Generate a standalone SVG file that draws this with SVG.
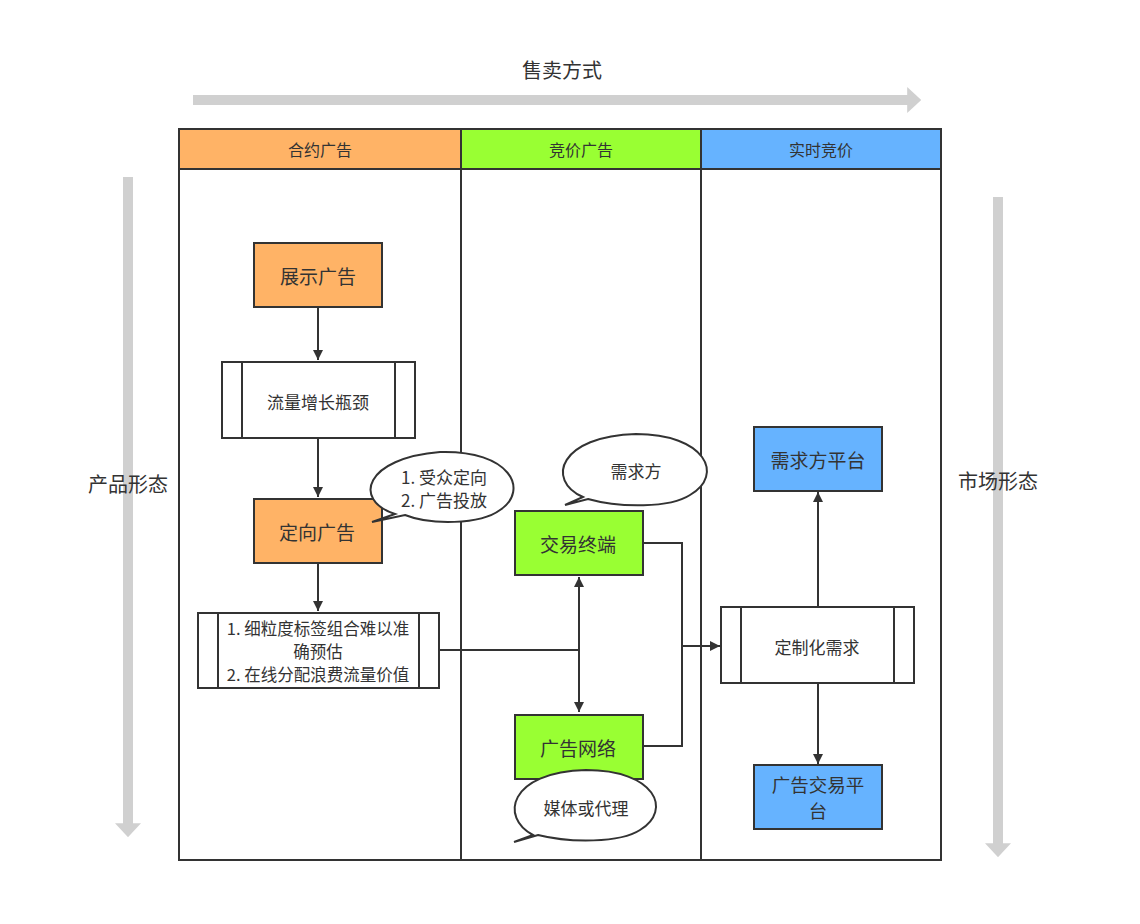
<svg xmlns="http://www.w3.org/2000/svg" width="1140" height="924" viewBox="0 0 1140 924">
<defs>
<marker id="a" viewBox="0 0 10 10" refX="10" refY="5" markerWidth="10" markerHeight="10" markerUnits="userSpaceOnUse" orient="auto-start-reverse"><path d="M0,0L10,5L0,10z" fill="#333"/></marker>
<marker id="g" viewBox="0 0 10 10" refX="2" refY="5" markerWidth="14" markerHeight="26" markerUnits="userSpaceOnUse" orient="auto" preserveAspectRatio="none"><path d="M0,0L10,5L0,10z" fill="#d0d0d0"/></marker>
<style>
text{font-family:"Noto Sans CJK SC","Noto Sans",sans-serif;fill:#333;text-anchor:middle;dominant-baseline:central}
.b{stroke:#333;stroke-width:2}
.l{stroke:#333;stroke-width:2;fill:none}
.gr{stroke:#d0d0d0;stroke-width:10;fill:none}
</style>
</defs>
<rect width="1140" height="924" fill="#fff"/>
<g id="axes">
<path class="gr" d="M193,100H910" marker-end="url(#g)"/>
<text x="562" y="69" font-size="20">售卖方式</text>
<path class="gr" d="M128,177V826" marker-end="url(#g)"/>
<text x="128" y="483" font-size="20">产品形态</text>
<path class="gr" d="M998,197V846" marker-end="url(#g)"/>
<text x="998" y="480" font-size="20">市场形态</text>
</g>
<g id="lanes">
<rect x="179" y="129" width="762" height="731" fill="#fff" class="b"/>
<rect x="179" y="129" width="282" height="40" fill="#ffb366" class="b"/>
<rect x="461" y="129" width="240" height="40" fill="#99ff33" class="b"/>
<rect x="701" y="129" width="240" height="40" fill="#66b3ff" class="b"/>
<line x1="461" y1="169" x2="461" y2="860" class="b"/>
<line x1="701" y1="169" x2="701" y2="860" class="b"/>
<text x="320" y="149" font-size="16">合约广告</text>
<text x="581" y="149" font-size="16">竞价广告</text>
<text x="821" y="149" font-size="16">实时竞价</text>
</g>
<g id="connectors">
<path class="l" d="M318,307V360" marker-end="url(#a)"/>
<path class="l" d="M318,439V497" marker-end="url(#a)"/>
<path class="l" d="M318,563V611" marker-end="url(#a)"/>
<path class="l" d="M440,650H579"/>
<path class="l" d="M579,577V712" marker-start="url(#a)" marker-end="url(#a)"/>
<path class="l" d="M643,543H682V746H643"/>
<path class="l" d="M682,646H720" marker-end="url(#a)"/>
<path class="l" d="M818,606V492" marker-end="url(#a)"/>
<path class="l" d="M818,684V764" marker-end="url(#a)"/>
</g>
<g id="n1"><rect x="254" y="243" width="128" height="64" fill="#ffb366" class="b"/><text x="318" y="275" font-size="19">展示广告</text></g>
<g id="n2"><rect x="222" y="362" width="193" height="76" fill="#fff" class="b"/><line x1="242" y1="362" x2="242" y2="438" class="b"/><line x1="395" y1="362" x2="395" y2="438" class="b"/><text x="318" y="401" font-size="17">流量增长瓶颈</text></g>
<g id="n3"><rect x="254" y="499" width="128" height="64" fill="#ffb366" class="b"/><text x="317" y="531" font-size="19">定向广告</text></g>
<g id="n4"><rect x="198" y="613" width="241" height="75" fill="#fff" class="b"/><line x1="218" y1="613" x2="218" y2="688" class="b"/><line x1="419" y1="613" x2="419" y2="688" class="b"/><text x="318" y="628" font-size="16.5">1. 细粒度标签组合难以准</text><text x="318" y="651" font-size="16.5">确预估</text><text x="318" y="674" font-size="16.5">2. 在线分配浪费流量价值</text></g>
<g id="b1"><path d="M395,514C352,500 365,458 440,452C510,450 530,490 500,510C480,525 430,525 405,515L372,522Z" fill="#fff" class="b"/><text x="444" y="476" font-size="17">1. 受众定向</text><text x="444" y="499" font-size="17">2. 广告投放</text></g>
<g id="n5"><rect x="515" y="511" width="128" height="64" fill="#99ff33" class="b"/><text x="578" y="543" font-size="19">交易终端</text></g>
<g id="b2"><path d="M583,497C545,480 560,436 636,434C705,434 725,475 690,495C670,508 620,508 588,499L565,505Z" fill="#fff" class="b"/><text x="636" y="470" font-size="17">需求方</text></g>
<g id="n6"><rect x="515" y="715" width="128" height="64" fill="#99ff33" class="b"/><text x="578" y="747" font-size="19">广告网络</text></g>
<g id="b3"><path d="M533,835C500,818 508,772 586,770C655,770 673,810 640,830C620,843 570,843 538,835L514,842Z" fill="#fff" class="b"/><text x="586" y="807" font-size="17">媒体或代理</text></g>
<g id="n7"><rect x="721" y="607" width="193" height="76" fill="#fff" class="b"/><line x1="741" y1="607" x2="741" y2="683" class="b"/><line x1="894" y1="607" x2="894" y2="683" class="b"/><text x="817" y="646" font-size="17">定制化需求</text></g>
<g id="n8"><rect x="754" y="427" width="128" height="64" fill="#66b3ff" class="b"/><text x="818" y="459" font-size="19">需求方平台</text></g>
<g id="n9"><rect x="754" y="765" width="128" height="64" fill="#66b3ff" class="b"/><text x="818" y="784" font-size="18.5">广告交易平</text><text x="818" y="810" font-size="18.5">台</text></g>
</svg>
